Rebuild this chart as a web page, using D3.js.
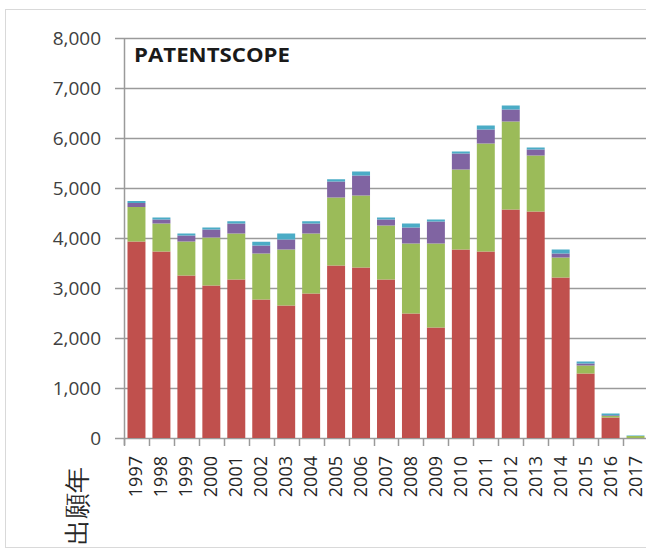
<!DOCTYPE html>
<meta charset="utf-8">
<script src="https://d3js.org/d3.v7.min.js"></script>
<style>
body { margin: 0; background: #fff; }
text { font-family: "Open Sans", "Noto Sans", sans-serif; }
</style>
<div id="chart"></div>
<script>
// application years
const years = ['1997','1998','1999','2000','2001','2002','2003','2004','2005','2006','2007',
	'2008','2009','2010','2011','2012','2013','2014','2015','2016','2017'];
// four stacked series, bottom to top
const red    = [3930,3730,3250,3050,3170,2770,2650,2890,3450,3410,3170,2490,2210,3770,3730,4570,4530,3210,1290,410,0];
const green  = [690,560,680,960,920,920,1120,1200,1360,1440,1080,1400,1680,1600,2160,1760,1120,400,160,30,40];
const purple = [80,80,120,160,200,160,200,200,320,400,120,320,440,320,280,240,120,80,40,15,0];
const cyan   = [40,40,40,40,45,75,120,45,45,80,40,80,40,40,80,80,40,80,40,35,10];
const yTicks = [0,1000,2000,3000,4000,5000,6000,7000,8000];
const seriesNames = ['red','green','purple','cyan'];
const colors = ['#c0504d','#9bbb59','#8064a2','#4bacc6'];

const W = 646, H = 549;
const svg = d3.select('#chart').append('svg')
	.attr('width', W).attr('height', H);

// outer chart frame
svg.append('rect')
	.attr('x', 5.5).attr('y', 9.5)
	.attr('width', 700).attr('height', 538)
	.attr('fill', 'none').attr('stroke', '#d9d9d9');

const x = d3.scaleBand().domain(years).range([124, 648]).paddingInner(0.28).paddingOuter(0.14);
const y = d3.scaleLinear().domain([0, 8000]).range([438, 38]);

const table = years.map((yr, i) => ({year: yr, red: red[i], green: green[i], purple: purple[i], cyan: cyan[i]}));
const stacked = d3.stack().keys(seriesNames)(table);

// gridlines with outward ticks
svg.append('g').selectAll('line').data(yTicks).join('line')
	.attr('x1', 115).attr('x2', W)
	.attr('y1', d => Math.round(y(d)) + 0.5).attr('y2', d => Math.round(y(d)) + 0.5)
	.attr('stroke', '#9a9a9a').attr('stroke-width', 1.5);

svg.append('g').selectAll('text').data(yTicks).join('text')
	.attr('x', 101).attr('y', d => y(d) + 7)
	.attr('text-anchor', 'end')
	.attr('font-size', 19).attr('fill', '#404040')
	.text(d => d3.format(',')(d));

// bars
svg.append('g').selectAll('g').data(stacked).join('g')
	.attr('fill', (d, i) => colors[i])
	.selectAll('rect').data(d => d).join('rect')
	.attr('x', d => x(d.data.year))
	.attr('width', x.bandwidth())
	.attr('y', d => y(d[1]))
	.attr('height', d => Math.max(0, y(d[0]) - y(d[1])));

// y axis line
svg.append('line')
	.attr('x1', 124.5).attr('x2', 124.5).attr('y1', 38).attr('y2', 445)
	.attr('stroke', '#9a9a9a').attr('stroke-width', 1.5);

// category ticks
const step = x.step();
svg.append('g').selectAll('line').data(d3.range(years.length + 1)).join('line')
	.attr('x1', i => Math.round(124 + i * step) + 0.5)
	.attr('x2', i => Math.round(124 + i * step) + 0.5)
	.attr('y1', 438).attr('y2', 446)
	.attr('stroke', '#9a9a9a').attr('stroke-width', 1.5);

// year labels, rotated
svg.append('g').selectAll('text').data(years).join('text')
	.attr('transform', d => `translate(${x(d) + x.bandwidth() / 2 + 6},456) rotate(-90)`)
	.attr('text-anchor', 'end')
	.attr('font-size', 18).attr('fill', '#262626')
	.text(d => d);

// axis title
svg.append('text')
	.attr('transform', 'translate(86,545) rotate(-90)')
	.attr('font-family', '"Noto Sans CJK JP", sans-serif')
	.attr('font-size', 26).attr('fill', '#262626')
	.text('出願年');

// chart title
svg.append('text')
	.attr('x', 134).attr('y', 62)
	.attr('font-size', 19).attr('font-weight', 'bold').attr('fill', '#1a1a1a')
	.attr('textLength', 156).attr('lengthAdjust', 'spacingAndGlyphs')
	.text('PATENTSCOPE');
</script>
